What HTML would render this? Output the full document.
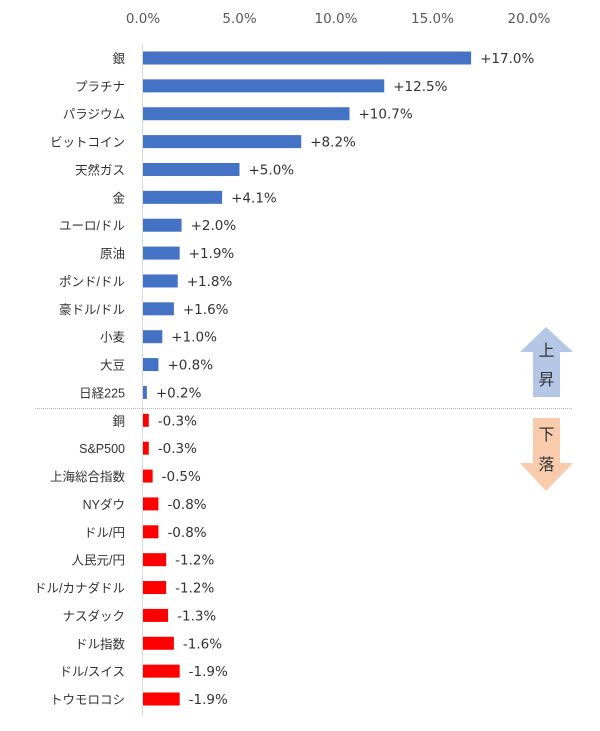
<!DOCTYPE html>
<html><head><meta charset="utf-8"><style>
body{margin:0;background:#fff;}
svg text{font-family:"Liberation Sans","Noto Sans CJK JP",sans-serif;font-size:12.5px;fill:#333;}
svg text.num{font-family:"DejaVu Sans","Noto Sans CJK JP",sans-serif;font-size:13.5px;}
svg text.tick{font-family:"DejaVu Sans",sans-serif;font-size:13.5px;fill:#595959;}
</style></head><body>
<svg width="600" height="726" viewBox="0 0 600 726">
<g id="ticks"></g>
<line x1="142.5" y1="44" x2="142.5" y2="716" stroke="#d9d9d9"/>
<line x1="35" y1="408.5" x2="573" y2="408.5" stroke="#bbb" stroke-dasharray="1,1"/>
<g id="bars"></g>
<g>
<polygon points="546,327 573,352 560,352 560,397 533,397 533,352 520,352" fill="#b4c7e7"/>
<text x="546.5" y="356" text-anchor="middle" style="font-size:16px">上</text>
<text x="546.5" y="385" text-anchor="middle" style="font-size:16px">昇</text>
</g>
<g>
<polygon points="533,418 560,418 560,463 573,463 546,491 520,463 533,463" fill="#f8cbad"/>
<text x="546.5" y="440" text-anchor="middle" style="font-size:16px">下</text>
<text x="546.5" y="470" text-anchor="middle" style="font-size:16px">落</text>
</g>
</svg>
<script>
const categories=["銀","プラチナ","パラジウム","ビットコイン","天然ガス","金","ユーロ/ドル","原油","ポンド/ドル","豪ドル/ドル","小麦","大豆","日経225","銅","S&P500","上海総合指数","NYダウ","ドル/円","人民元/円","ドル/カナダドル","ナスダック","ドル指数","ドル/スイス","トウモロコシ"];
const values=[17.0,12.5,10.7,8.2,5.0,4.1,2.0,1.9,1.8,1.6,1.0,0.8,0.2,-0.3,-0.3,-0.5,-0.8,-0.8,-1.2,-1.2,-1.3,-1.6,-1.9,-1.9];
const tickValues=[0,5,10,15,20];
const NS="http://www.w3.org/2000/svg";
const x0=143,pxPer=19.3,y0=58,step=27.87,bh=13;
const xs=v=>x0+Math.abs(v)*pxPer;
const ys=i=>y0+i*step;
const tg=document.getElementById('ticks');
tickValues.forEach(t=>{const e=document.createElementNS(NS,'text');


e.setAttribute('class','tick');
e.setAttribute('x',xs(t));e.setAttribute('y',23);e.setAttribute('text-anchor','middle');e.textContent=t.toFixed(1)+'%';tg.appendChild(e);});
const bg=document.getElementById('bars');
categories.forEach((c,i)=>{const v=values[i],y=ys(i);
const r=document.createElementNS(NS,'rect');


r.setAttribute('x',x0);r.setAttribute('y',y-bh/2);r.setAttribute('width',Math.max(xs(v)-x0,0));r.setAttribute('height',bh);r.setAttribute('fill',v>=0?'#4472c4':'#ff0000');bg.appendChild(r);
const l=document.createElementNS(NS,'text');


l.setAttribute('x',125);l.setAttribute('y',y+5);l.setAttribute('text-anchor','end');l.textContent=c;bg.appendChild(l);
const t=document.createElementNS(NS,'text');


t.setAttribute('class','num');
t.setAttribute('x',xs(v)+9);t.setAttribute('y',y+5);t.textContent=(v>=0?'+':'')+v.toFixed(1)+'%';bg.appendChild(t);});
</script>
</body></html>
